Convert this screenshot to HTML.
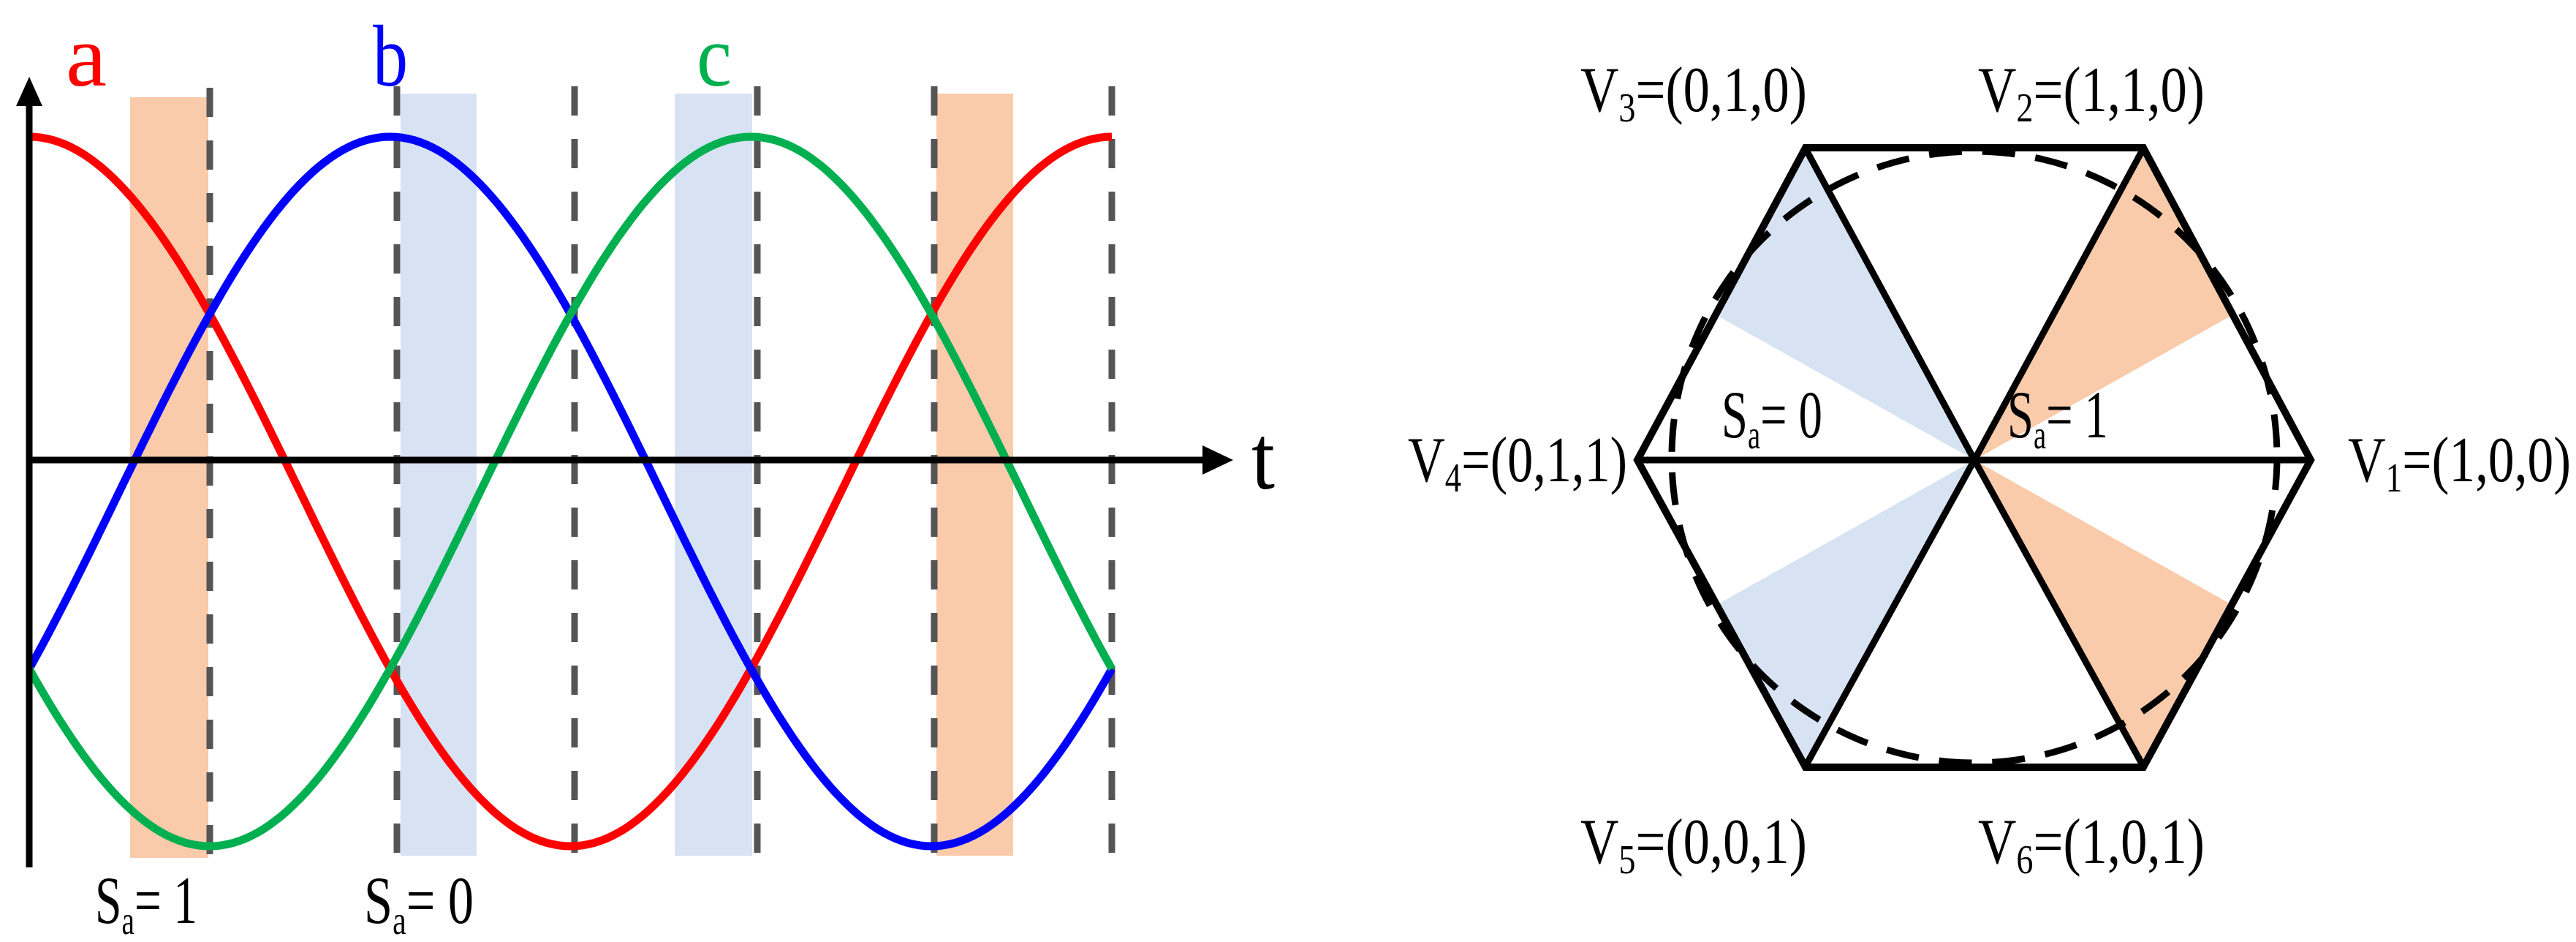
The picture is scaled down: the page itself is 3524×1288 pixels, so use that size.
<!DOCTYPE html>
<html><head><meta charset="utf-8"><style>
html,body{margin:0;padding:0;background:#fff}
svg{display:block}
text{font-family:"Liberation Serif",serif}
</style></head><body>
<svg id="s" width="3524" height="1288" viewBox="0 0 3524 1288" xmlns="http://www.w3.org/2000/svg">
<defs>
<marker id="ah" markerWidth="10" markerHeight="10" refX="9" refY="5" orient="auto" markerUnits="userSpaceOnUse" viewBox="0 0 10 10"><path d="M0,0 L10,5 L0,10 z" fill="#000"/></marker>
</defs>
<rect x="178" y="133" width="107" height="1040" fill="#f9cbaa"/>
<rect x="548" y="128" width="104" height="1042" fill="#d7e2f3"/>
<rect x="923" y="128" width="106" height="1042" fill="#d7e2f3"/>
<rect x="1281" y="128" width="105" height="1042" fill="#f9cbaa"/>
<g stroke="#555" stroke-width="9" stroke-dasharray="40,32">
<line x1="287" y1="120" x2="287" y2="1170"/>
<line x1="543" y1="118" x2="543" y2="1170"/>
<line x1="786" y1="118" x2="786" y2="1170"/>
<line x1="1036" y1="118" x2="1036" y2="1170"/>
<line x1="1278" y1="118" x2="1278" y2="1170"/>
<line x1="1521" y1="118" x2="1521" y2="1170"/>
</g>
<path id="pa" fill="none" stroke="#ff0000" stroke-width="11"/>
<path id="pb" fill="none" stroke="#0000ff" stroke-width="11"/>
<path id="pc" fill="none" stroke="#00b050" stroke-width="11"/>
<line x1="40" y1="1186" x2="40" y2="140" stroke="#000" stroke-width="9"/>
<path d="M22,145 L40,105 L58,145 z" fill="#000"/>
<line x1="36" y1="629" x2="1650" y2="629" stroke="#000" stroke-width="9"/>
<path d="M1645,609 L1687,629 L1645,649 z" fill="#000"/>
<text x="1712" y="668" font-size="125" textLength="32" lengthAdjust="spacingAndGlyphs">t</text>
<text x="90" y="117" font-size="120" fill="#ff0000" textLength="56" lengthAdjust="spacingAndGlyphs">a</text>
<text x="510" y="117" font-size="120" fill="#0000ff" textLength="48" lengthAdjust="spacingAndGlyphs">b</text>
<text x="953" y="117" font-size="120" fill="#00b050" textLength="48" lengthAdjust="spacingAndGlyphs">c</text>
<text x="130" y="1262" font-size="92" textLength="140" lengthAdjust="spacingAndGlyphs">S<tspan font-size="55" dy="15">a</tspan><tspan dy="-15">= 1</tspan></text>
<text x="498" y="1262" font-size="92" textLength="150" lengthAdjust="spacingAndGlyphs">S<tspan font-size="55" dy="15">a</tspan><tspan dy="-15">= 0</tspan></text>

<polygon points="2701,629 3050,433 2932,202" fill="#f9cbaa"/>
<polygon points="2701,629 3050,825 2932,1049" fill="#f9cbaa"/>
<polygon points="2701,629 2352,433 2470,202" fill="#d7e2f3"/>
<polygon points="2701,629 2352,825 2470,1049" fill="#d7e2f3"/>
<ellipse cx="2701" cy="625" rx="414" ry="418" fill="none" stroke="#000" stroke-width="9" stroke-dasharray="45,28"/>
<polygon points="2240,629 2470,202 2932,202 3161,629 2932,1049 2470,1049" fill="none" stroke="#000" stroke-width="10"/>
<g stroke="#000" stroke-width="9" marker-end="url(#ah)">
<line x1="2701" y1="629" x2="3156" y2="629"/>
<line x1="2701" y1="629" x2="2245" y2="629"/>
<line x1="2701" y1="629" x2="2930" y2="207"/>
<line x1="2701" y1="629" x2="2472" y2="207"/>
<line x1="2701" y1="629" x2="2472" y2="1044"/>
<line x1="2701" y1="629" x2="2930" y2="1044"/>
</g>
<g font-size="88">
<text x="2162" y="152" textLength="310" lengthAdjust="spacingAndGlyphs">V<tspan font-size="56" dy="14">3</tspan><tspan dy="-14">=(0,1,0)</tspan></text>
<text x="2706" y="152" textLength="310" lengthAdjust="spacingAndGlyphs">V<tspan font-size="56" dy="14">2</tspan><tspan dy="-14">=(1,1,0)</tspan></text>
<text x="1926" y="658" textLength="300" lengthAdjust="spacingAndGlyphs">V<tspan font-size="56" dy="14">4</tspan><tspan dy="-14">=(0,1,1)</tspan></text>
<text x="3212" y="658" textLength="305" lengthAdjust="spacingAndGlyphs">V<tspan font-size="56" dy="14">1</tspan><tspan dy="-14">=(1,0,0)</tspan></text>
<text x="2162" y="1180" textLength="310" lengthAdjust="spacingAndGlyphs">V<tspan font-size="56" dy="14">5</tspan><tspan dy="-14">=(0,0,1)</tspan></text>
<text x="2706" y="1180" textLength="310" lengthAdjust="spacingAndGlyphs">V<tspan font-size="56" dy="14">6</tspan><tspan dy="-14">=(1,0,1)</tspan></text>
<text x="2355" y="598" font-size="92" textLength="138" lengthAdjust="spacingAndGlyphs">S<tspan font-size="55" dy="15">a</tspan><tspan dy="-15">= 0</tspan></text>
<text x="2746" y="598" font-size="92" textLength="138" lengthAdjust="spacingAndGlyphs">S<tspan font-size="55" dy="15">a</tspan><tspan dy="-15">= 1</tspan></text>
</g>
</svg>
<script>
function mk(ph){var d="";for(var i=0;i<=360;i+=2){var x=40+i/360*1481;var y=672-485*Math.cos((i-ph)*Math.PI/180);d+=(i?"L":"M")+x.toFixed(1)+","+y.toFixed(1);}return d;}
document.getElementById("pa").setAttribute("d",mk(0));
document.getElementById("pb").setAttribute("d",mk(120));
document.getElementById("pc").setAttribute("d",mk(240));
</script>
</body></html>
